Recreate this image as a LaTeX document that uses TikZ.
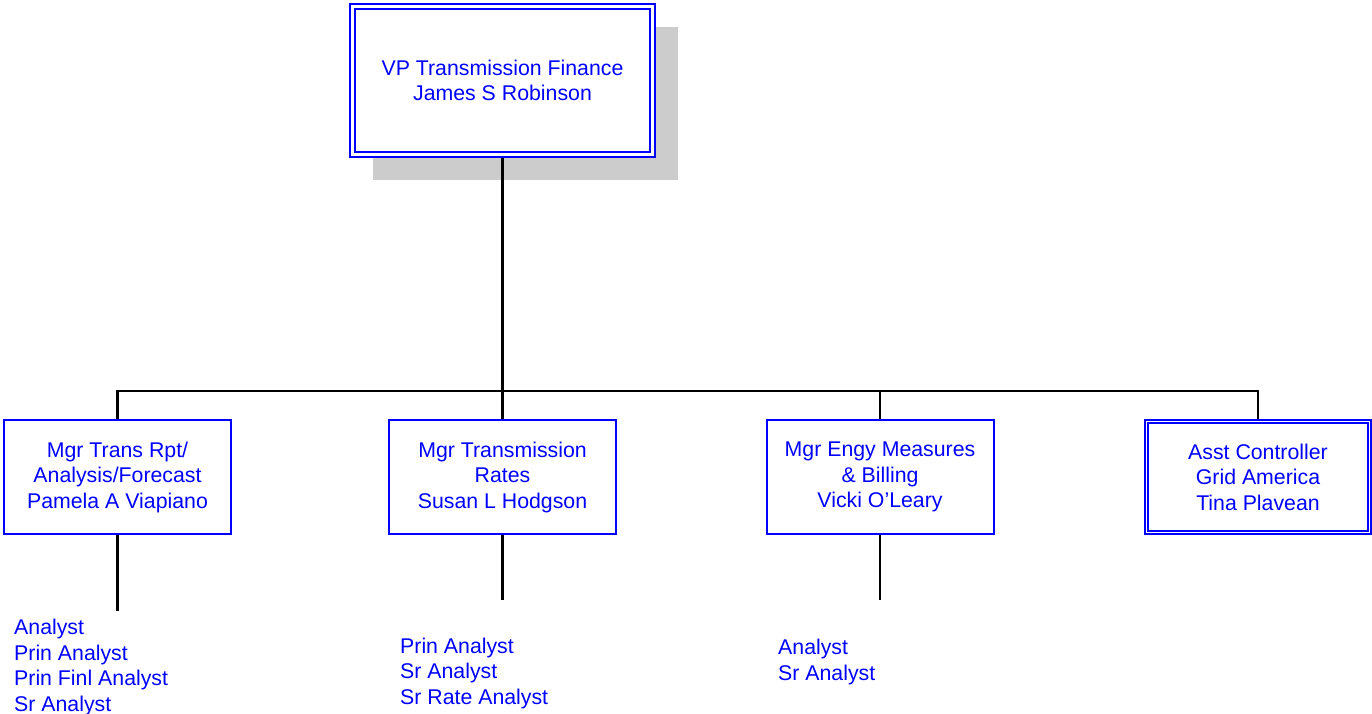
\documentclass[tikz,border=0pt]{standalone}
\usepackage{fontspec}
\setmainfont{Liberation Sans}
\usetikzlibrary{shadows}
\definecolor{orgblue}{RGB}{0,0,255}
\definecolor{shade}{RGB}{204,204,204}
\begin{document}
\begin{tikzpicture}[x=1pt,y=-1pt,
  box/.style={draw=orgblue, line width=2pt, fill=white, text=orgblue, align=center,
    inner sep=0pt, minimum width=227pt, minimum height=114pt,
    font=\fontsize{21.3}{25.5}\selectfont},
  list/.style={text=orgblue, align=left, inner sep=0pt, anchor=west,
    font=\fontsize{21.3}{25.5}\selectfont},
  conn/.style={draw=black, line width=2.2pt}]
\useasboundingbox (0,0) rectangle (1372,713);
% top box
\node[box, minimum width=305pt, minimum height=153pt,
  drop shadow={shadow xshift=23pt, shadow yshift=-23pt, opacity=1, fill=shade}]
  (vp) at (502.5,80.5) {VP Transmission Finance\\James S Robinson};
\draw[orgblue, line width=2pt] ([shift={(6,6)}]vp.north west) rectangle ([shift={(-6,-6)}]vp.south east);
% managers
\node[box] (m1) at (117.5,477) {Mgr Trans Rpt/\\Analysis/Forecast\\Pamela A Viapiano};
\node[box] (m2) at (502.5,477) {Mgr Transmission\\Rates\\Susan L Hodgson};
\node[box] (m3) at (880,477) {Mgr Engy Measures\\\& Billing\\Vicki O’Leary};
\node[box, minimum width=226pt] (m4) at (1258,477) {Asst Controller\\Grid America\\Tina Plavean};
\draw[orgblue, line width=1.6pt] ([shift={(4,4)}]m4.north west) rectangle ([shift={(-4,-4)}]m4.south east);
% connectors
\draw[conn] (m1.north) -- ++(0,-28) coordinate (busL) -| (m4.north);
\draw[conn] (vp.south) -- (vp.south |- busL);
\draw[conn] (m2.north) -- (m2.north |- busL);
\draw[conn] (m3.north) -- (m3.north |- busL);
% drops
\draw[conn] (m1.south) -- ++(0,76) coordinate (d1);
\draw[conn] (m2.south) -- ++(0,65) coordinate (d2);
\draw[conn] (m3.south) -- ++(0,65) coordinate (d3);
% lists
\node[list] (l1) at (14,667.5) {Analyst\\Prin Analyst\\Prin Finl Analyst\\Sr Analyst};
\node[list] (l2) at (400,673) {Prin Analyst\\Sr Analyst\\Sr Rate Analyst};
\node[list] (l3) at (778,662) {Analyst\\Sr Analyst};
\end{tikzpicture}
\end{document}
